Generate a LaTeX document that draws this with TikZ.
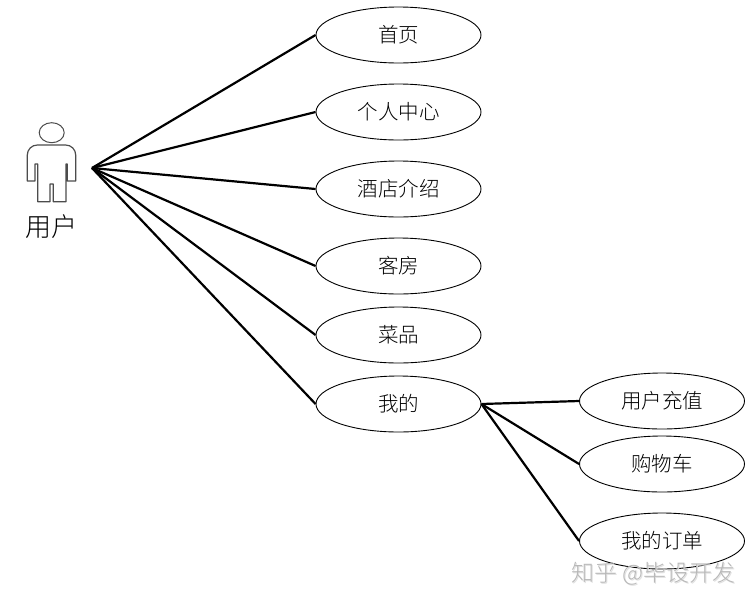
\documentclass[tikz,border=0pt]{standalone}
\usepackage{fontspec}
\newfontfamily\cjk{Noto Sans CJK SC Light}[BoldFont={Noto Sans CJK SC}]
\usetikzlibrary{shapes.geometric}
\tikzset{
  usecase/.style={draw,ellipse,line width=0.9pt,minimum width=165pt,minimum height=56pt,inner sep=0pt,font=\cjk\fontsize{20.5}{22}\selectfont,fill=white},
  link/.style={line width=2.2pt},
  actorline/.style={draw=black!70,line width=1.2pt,line join=round},
  wmark/.style={font=\cjk\fontsize{23}{25}\selectfont,inner sep=0pt},
}
\begin{document}
\begin{tikzpicture}[x=1pt,y=-1pt]
\useasboundingbox (0,0) rectangle (754,606);
\fill[white] (0,0) rectangle (754,606);
\coordinate (hub) at (92,168);
\node[usecase] (a) at (398.5,35) {首页};
\node[usecase] (b) at (398.5,112) {个人中心};
\node[usecase] (c) at (398.5,189) {酒店介绍};
\node[usecase] (d) at (398.5,266) {客房};
\node[usecase] (e) at (398.5,335) {菜品};
\node[usecase] (f) at (398.5,404) {我的};
\node[usecase] (g) at (662,401) {用户充值};
\node[usecase] (h) at (662,464) {购物车};
\node[usecase] (i) at (662,541) {我的订单};
\foreach \t in {a,b,c,d,e,f} \draw[link] (hub) -- (\t.west);
\foreach \t in {g,h,i} \draw[link] (f.east) -- (\t.west);
\node[draw=black!70,line width=1pt,ellipse,minimum width=25pt,minimum height=20pt,inner sep=0pt] (head) at (51.7,132.7) {};
\draw[actorline] (37.7,201.7) -- (37.7,164) -- (35,164) -- (35,181) -- (27.3,181) -- (27.3,155)
  .. controls (27.3,149.5) and (31.8,145) .. (37.3,145) -- (65.7,145)
  .. controls (71.2,145) and (75.7,149.5) .. (75.7,155) -- (75.7,181) -- (67.3,181) -- (67.3,164) -- (66,164)
  -- (66,201.7) -- (53.3,201.7) -- (53.3,184) -- (50,184) -- (50,201.7) -- cycle;
\node[font=\cjk\fontsize{26}{28}\selectfont,inner sep=0pt] (user) at (51,227) {用户};
\node[wmark,text=black!12] (wmshadow) at (654.5,574.5) {知乎 @毕设开发};
\node[wmark,text=black!28] (wm) at (653,573.5) {知乎 @毕设开发};
\end{tikzpicture}
\end{document}
